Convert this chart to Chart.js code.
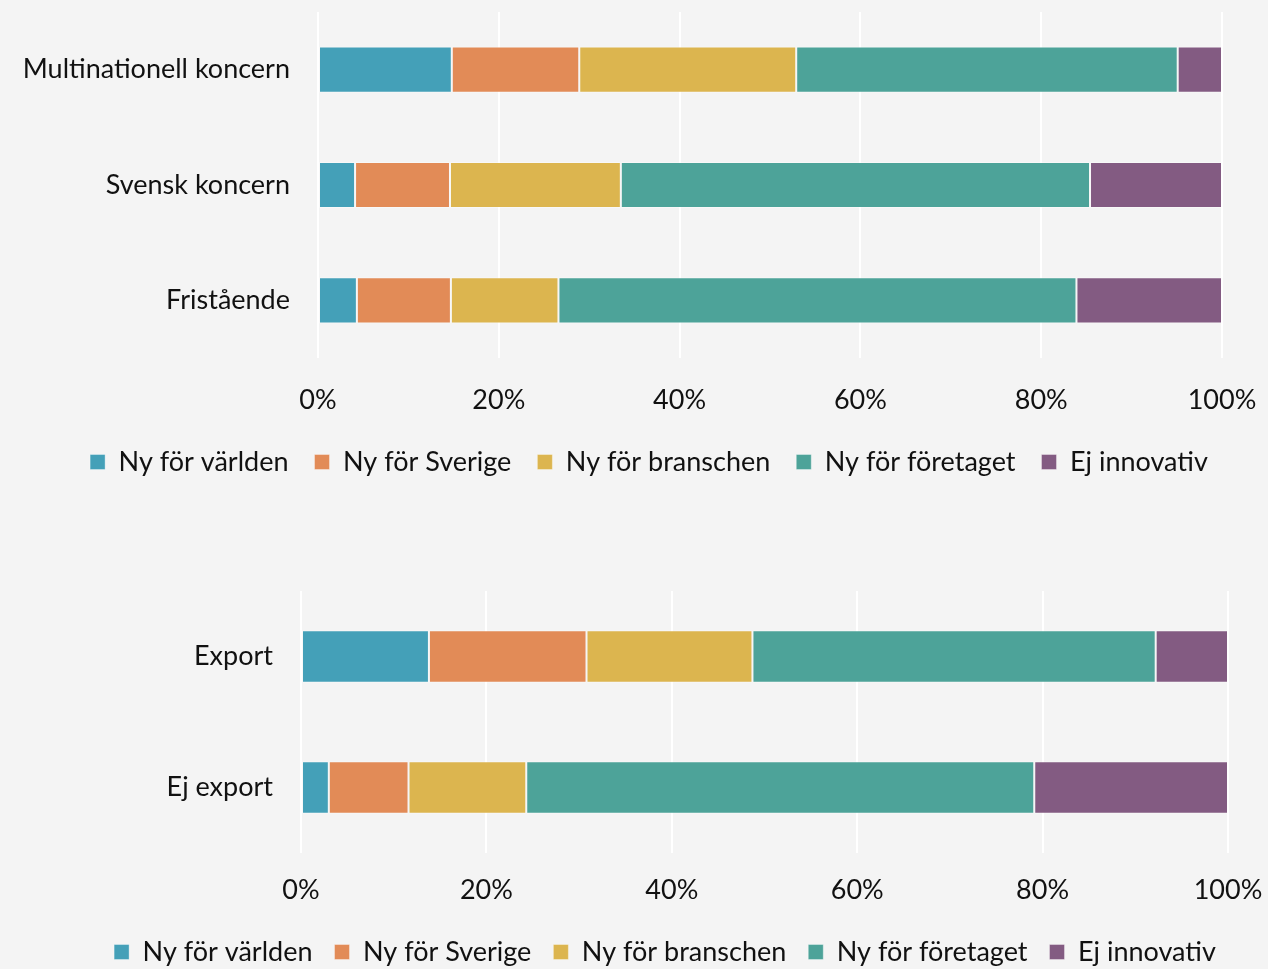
<!DOCTYPE html>
<html><head><meta charset="utf-8">
<script src="https://cdn.jsdelivr.net/npm/chart.js@4.4.0/dist/chart.umd.min.js"></script>
<style>
html,body{margin:0;padding:0;background:#f4f4f4;width:1268px;height:969px;overflow:hidden}
#c1{position:absolute;left:0;top:0}
#c2{position:absolute;left:0;top:500px}
</style></head><body>
<canvas id="c1" width="1268" height="500"></canvas>
<canvas id="c2" width="1268" height="480"></canvas>
<script>
const seriesNames = ['Ny för världen', 'Ny för Sverige', 'Ny för branschen', 'Ny för företaget', 'Ej innovativ'];
const seriesColors = ['#44a0b8', '#e28b57', '#dcb54f', '#4da399', '#835b82'];
const xTicks = [0, 20, 40, 60, 80, 100];

// Top chart (ownership)
const categoriesTop = ['Multinationell koncern', 'Svensk koncern', 'Fristående'];
const topNyForVarlden   = [14.8, 4.1, 4.3];
const topNyForSverige   = [14.1, 10.5, 10.4];
const topNyForBranschen = [24.0, 18.9, 11.9];
const topNyForForetaget = [42.2, 51.9, 57.3];
const topEjInnovativ    = [4.9, 14.6, 16.1];

// Bottom chart (export)
const categoriesBottom = ['Export', 'Ej export'];
const botNyForVarlden   = [13.8, 3.0];
const botNyForSverige   = [17.0, 8.6];
const botNyForBranschen = [17.9, 12.7];
const botNyForForetaget = [43.5, 54.8];
const botEjInnovativ    = [7.8, 20.9];

Chart.defaults.font.family = 'Lato, "Open Sans", sans-serif';
Chart.defaults.font.size = 27;
Chart.defaults.color = '#111111';
Chart.defaults.animation = false;

const legendShift = {
  id: 'legendShift',
  afterLayout(chart, args, opts) {
    const l = chart.legend;
    if (l && opts.dx) { l.left += opts.dx; l.right += opts.dx; }
  }
};

function makeDatasets(arrs) {
  return arrs.map((d, i) => ({
    label: seriesNames[i],
    data: d,
    backgroundColor: seriesColors[i],
    borderColor: 'rgba(255,255,255,0.35)',
    borderWidth: 1,
    borderSkipped: false,
    categoryPercentage: 1,
    barPercentage: 0.4
  }));
}

function makeChart(id, cats, arrs, cfg) {
  return new Chart(document.getElementById(id), {
    type: 'bar',
    data: { labels: cats, datasets: makeDatasets(arrs) },
    plugins: [legendShift],
    options: {
      indexAxis: 'y',
      responsive: false,
      devicePixelRatio: 1,
      layout: { padding: cfg.padding },
      plugins: {
        legendShift: { dx: cfg.legendDx },
        legend: {
          position: 'bottom',
          labels: { boxWidth: 15, boxHeight: 15, padding: cfg.legendPad, color: '#111111', font: { size: 27 } }
        },
        tooltip: { enabled: false }
      },
      scales: {
        x: {
          stacked: true, min: 0, max: 100,
          afterBuildTicks: (s) => { s.ticks = xTicks.map(v => ({ value: v })); },
          afterFit: (s) => { s.height = cfg.xHeight; s.paddingLeft = 0; s.paddingRight = 0; },
          ticks: { padding: cfg.xTickPad, callback: (v) => v + '%', maxRotation: 0, color: '#111111' },
          grid: { color: '#ffffff', lineWidth: 2, drawTicks: false },
          border: { display: false }
        },
        y: {
          stacked: true,
          afterFit: (s) => { s.width = cfg.yWidth; s.paddingTop = 0; s.paddingBottom = 0; },
          ticks: { padding: 20, color: '#111111' },
          grid: { display: false },
          border: { display: false }
        }
      }
    }
  });
}

makeChart('c1', categoriesTop,
  [topNyForVarlden, topNyForSverige, topNyForBranschen, topNyForForetaget, topEjInnovativ],
  { padding: { top: 12, left: 0, right: 46, bottom: 14.5 }, yWidth: 318, xHeight: 64.5, xTickPad: 26, legendPad: 26, legendDx: 38 });

makeChart('c2', categoriesBottom,
  [botNyForVarlden, botNyForSverige, botNyForBranschen, botNyForForetaget, botEjInnovativ],
  { padding: { top: 91, left: 0, right: 40, bottom: 4.5 }, yWidth: 301, xHeight: 63.5, xTickPad: 21, legendPad: 22, legendDx: 51 });
</script>
</body></html>
